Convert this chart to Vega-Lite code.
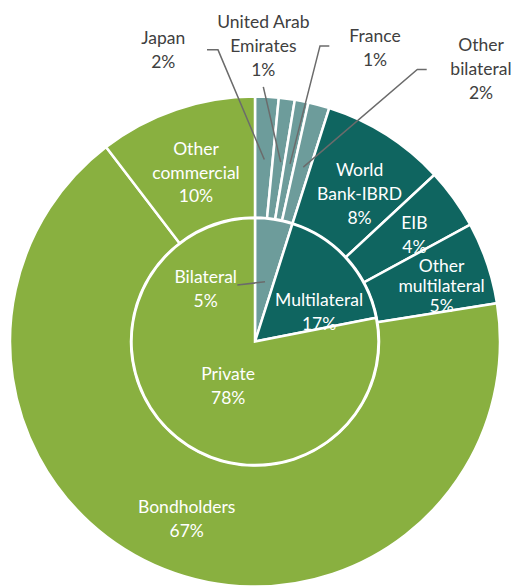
{
  "$schema": "https://vega.github.io/schema/vega-lite/v6.json",
  "width": 514,
  "height": 588,
  "padding": 0,
  "autosize": {"type": "fit", "contains": "padding"},
  "background": "white",
  "config": {"view": {"stroke": null}, "font": "Lato", "text": {"fontSize": 17.5, "lineBreak": "\n", "lineHeight": 23.8, "align": "center", "baseline": "middle"}},
  "datasets": {
    "outer": [
      {"name": "Japan", "group": "Bilateral", "value": 1.55, "order": 1, "label": "Japan\n2%"},
      {"name": "United Arab Emirates", "group": "Bilateral", "value": 1.05, "order": 2, "label": "United Arab\nEmirates\n1%"},
      {"name": "France", "group": "Bilateral", "value": 0.9, "order": 3, "label": "France\n1%"},
      {"name": "Other bilateral", "group": "Bilateral", "value": 1.4, "order": 4, "label": "Other\nbilateral\n2%"},
      {"name": "World Bank-IBRD", "group": "Multilateral", "value": 8.18, "order": 5, "label": "World\nBank-IBRD\n8%"},
      {"name": "EIB", "group": "Multilateral", "value": 4.0, "order": 6, "label": "EIB\n4%"},
      {"name": "Other multilateral", "group": "Multilateral", "value": 5.42, "order": 7, "label": "Other\nmultilateral\n5%"},
      {"name": "Bondholders", "group": "Private", "value": 67.1, "order": 8, "label": "Bondholders\n67%"},
      {"name": "Other commercial", "group": "Private", "value": 10.4, "order": 9, "label": "Other\ncommercial\n10%"}
    ],
    "inner": [
      {"name": "Bilateral", "group": "Bilateral", "value": 4.9, "order": 1, "label": "Bilateral\n5%"},
      {"name": "Multilateral", "group": "Multilateral", "value": 17.0, "order": 2, "label": "Multilateral\n17%"},
      {"name": "Private", "group": "Private", "value": 78.1, "order": 3, "label": "Private\n78%"}
    ],
    "callouts": [
      {"name": "Japan", "label": "Japan\n2%", "x": -37.43, "y": 121.84},
      {"name": "United Arab Emirates", "label": "United Arab\nEmirates\n1%", "x": 3.39, "y": 123.59},
      {"name": "France", "label": "France\n1%", "x": 48.98, "y": 122.78},
      {"name": "Other bilateral", "label": "Other\nbilateral\n2%", "x": 92.24, "y": 113.96},
      {"name": "Bilateral", "label": "Bilateral\n5%", "x": -20.12, "y": 22.6}
    ],
    "leaders": [
      {"name": "Japan", "seq": 1, "x": -19.59, "y": 121.14},
      {"name": "Japan", "seq": 2, "x": -15.1, "y": 121.14},
      {"name": "Japan", "seq": 3, "x": 3.8, "y": 75.59},
      {"name": "United Arab Emirates", "seq": 1, "x": 3.39, "y": 105.8},
      {"name": "United Arab Emirates", "seq": 2, "x": 10.49, "y": 74.49},
      {"name": "France", "seq": 1, "x": 30.33, "y": 122.78},
      {"name": "France", "seq": 2, "x": 26.53, "y": 122.78},
      {"name": "France", "seq": 3, "x": 14.29, "y": 73.8},
      {"name": "Other bilateral", "seq": 1, "x": 70.08, "y": 112.98},
      {"name": "Other bilateral", "seq": 2, "x": 66.24, "y": 112.98},
      {"name": "Other bilateral", "seq": 3, "x": 19.71, "y": 72.45},
      {"name": "Bilateral", "seq": 1, "x": -7.22, "y": 23.47},
      {"name": "Bilateral", "seq": 2, "x": 4.08, "y": 24.82}
    ]
  },
  "layer": [
    {
      "data": {"name": "outer"},
      "mark": {"type": "arc", "innerRadius": 124, "outerRadius": 245, "stroke": "white", "strokeWidth": 2.5},
      "encoding": {
        "x": {"datum": 0, "type": "quantitative", "scale": {"domain": [-104.08, 105.71], "nice": false, "zero": false}, "axis": null},
        "y": {"datum": 0, "type": "quantitative", "scale": {"domain": [-98.16, 141.84], "nice": false, "zero": false}, "axis": null},
        "theta": {"field": "value", "type": "quantitative", "stack": true, "scale": {"domain": [0, 100]}},
        "order": {"field": "order", "type": "quantitative"},
        "color": {"field": "group", "type": "nominal", "scale": {"domain": ["Bilateral", "Multilateral", "Private"], "range": ["#6D9C9B", "#0F6560", "#89B040"]}, "legend": null}
      }
    },
    {
      "data": {"name": "inner"},
      "mark": {"type": "arc", "innerRadius": 0, "outerRadius": 123.5, "stroke": "white", "strokeWidth": 2.5},
      "encoding": {
        "x": {"datum": 0, "type": "quantitative"},
        "y": {"datum": 0, "type": "quantitative"},
        "theta": {"field": "value", "type": "quantitative", "stack": true},
        "order": {"field": "order", "type": "quantitative"},
        "color": {"field": "group", "type": "nominal", "legend": null}
      }
    },
    {
      "data": {"name": "outer"},
      "mark": {"type": "text", "radius": 186, "dx": 5, "dy": -13, "color": "white"},
      "encoding": {
        "x": {"datum": 0, "type": "quantitative"}, "y": {"datum": 0, "type": "quantitative"},
        "theta": {"field": "value", "type": "quantitative", "stack": true},
        "order": {"field": "order", "type": "quantitative"}, "detail": {"field": "name"},
        "text": {"condition": {"test": "datum.name !== 'World Bank-IBRD'", "value": ""}, "field": "label"}
      }
    },
    {
      "data": {"name": "outer"},
      "mark": {"type": "text", "radius": 196, "dx": 1, "dy": -11.5, "lineHeight": 20, "color": "white"},
      "encoding": {
        "x": {"datum": 0, "type": "quantitative"}, "y": {"datum": 0, "type": "quantitative"},
        "theta": {"field": "value", "type": "quantitative", "stack": true},
        "order": {"field": "order", "type": "quantitative"}, "detail": {"field": "name"},
        "text": {"condition": {"test": "datum.name !== 'Other multilateral'", "value": ""}, "field": "label"}
      }
    },
    {
      "data": {"name": "outer"},
      "mark": {"type": "text", "radius": 184, "dy": -17.5, "color": "white"},
      "encoding": {
        "x": {"datum": 0, "type": "quantitative"}, "y": {"datum": 0, "type": "quantitative"},
        "theta": {"field": "value", "type": "quantitative", "stack": true},
        "order": {"field": "order", "type": "quantitative"}, "detail": {"field": "name"},
        "text": {"condition": {"test": "datum.name !== 'Other commercial'", "value": ""}, "field": "label"}
      }
    },
    {
      "data": {"name": "outer"},
      "mark": {"type": "text", "radius": 195, "dx": 1, "dy": -3.5, "color": "white"},
      "encoding": {
        "x": {"datum": 0, "type": "quantitative"}, "y": {"datum": 0, "type": "quantitative"},
        "theta": {"field": "value", "type": "quantitative", "stack": true},
        "order": {"field": "order", "type": "quantitative"}, "detail": {"field": "name"},
        "text": {"condition": {"test": "datum.name !== 'EIB'", "value": ""}, "field": "label"}
      }
    },
    {
      "data": {"name": "outer"},
      "mark": {"type": "text", "radius": 184, "dy": -4.5, "color": "white"},
      "encoding": {
        "x": {"datum": 0, "type": "quantitative"}, "y": {"datum": 0, "type": "quantitative"},
        "theta": {"field": "value", "type": "quantitative", "stack": true},
        "order": {"field": "order", "type": "quantitative"}, "detail": {"field": "name"},
        "text": {"condition": {"test": "datum.name !== 'Bondholders'", "value": ""}, "field": "label"}
      }
    },
    {
      "data": {"name": "inner"},
      "mark": {"type": "text", "radius": 47, "dx": 3, "dy": -2.5, "color": "white"},
      "encoding": {
        "x": {"datum": 0, "type": "quantitative"}, "y": {"datum": 0, "type": "quantitative"},
        "theta": {"field": "value", "type": "quantitative", "stack": true},
        "order": {"field": "order", "type": "quantitative"}, "detail": {"field": "name"},
        "text": {"condition": {"test": "datum.name !== 'Private'", "value": ""}, "field": "label"}
      }
    },
    {
      "data": {"name": "inner"},
      "mark": {"type": "text", "radius": 73, "dx": 9.6, "dy": 8.2, "color": "white"},
      "encoding": {
        "x": {"datum": 0, "type": "quantitative"}, "y": {"datum": 0, "type": "quantitative"},
        "theta": {"field": "value", "type": "quantitative", "stack": true},
        "order": {"field": "order", "type": "quantitative"}, "detail": {"field": "name"},
        "text": {"condition": {"test": "datum.name !== 'Multilateral'", "value": ""}, "field": "label"}
      }
    },
    {
      "data": {"name": "leaders"},
      "mark": {"type": "line", "color": "#6B6B6B", "strokeWidth": 1.5},
      "encoding": {
        "x": {"field": "x", "type": "quantitative"},
        "y": {"field": "y", "type": "quantitative"},
        "detail": {"field": "name"},
        "order": {"field": "seq", "type": "quantitative"}
      }
    },
    {
      "data": {"name": "callouts"},
      "transform": [{"filter": "indexof(datum.label, '\\n') === lastindexof(datum.label, '\\n')"}],
      "mark": {"type": "text", "dy": -8.9},
      "encoding": {
        "x": {"field": "x", "type": "quantitative"},
        "y": {"field": "y", "type": "quantitative"},
        "text": {"field": "label"},
        "color": {"condition": {"test": "datum.name === 'Bilateral'", "value": "white"}, "value": "#404040"}
      }
    },
    {
      "data": {"name": "callouts"},
      "transform": [{"filter": "indexof(datum.label, '\\n') !== lastindexof(datum.label, '\\n')"}],
      "mark": {"type": "text", "dy": -20.8},
      "encoding": {
        "x": {"field": "x", "type": "quantitative"},
        "y": {"field": "y", "type": "quantitative"},
        "text": {"field": "label"},
        "color": {"value": "#404040"}
      }
    }
  ]
}
